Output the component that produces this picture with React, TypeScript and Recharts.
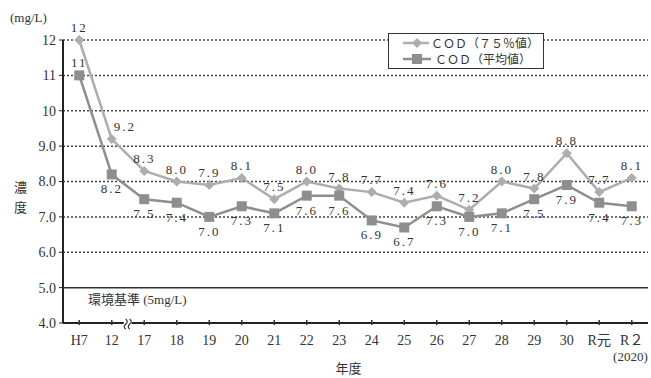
import { LabelList, Legend, Line, LineChart, ReferenceLine, XAxis, YAxis } from "recharts"

const YEARS = ["H7", "12", "17", "18", "19", "20", "21", "22", "23", "24", "25", "26", "27", "28", "29", "30", "R元", "R２"]
const COD_75 = [12, 9.2, 8.3, 8.0, 7.9, 8.1, 7.5, 8.0, 7.8, 7.7, 7.4, 7.6, 7.2, 8.0, 7.8, 8.8, 7.7, 8.1]
const COD_AVG = [11, 8.2, 7.5, 7.4, 7.0, 7.3, 7.1, 7.6, 7.6, 6.9, 6.7, 7.3, 7.0, 7.1, 7.5, 7.9, 7.4, 7.3]
const Y_TICKS = [4, 5, 6, 7, 8, 9, 10, 11, 12]
const GRID_VALUES = [6, 7, 8, 9, 10, 11, 12]

const data = YEARS.map((year, i) => ({ year, p75: COD_75[i], avg: COD_AVG[i] }))

const SERIF = '"Liberation Serif", "DejaVu Serif", "Noto Sans CJK JP", serif'
const LIGHT = "#adadad"
const DARK = "#8e8e8e"
const INK = "#333"

const fmt = (v: number) => (v >= 10 ? String(v) : v.toFixed(1))

function XTick(props: any) {
  const { x, y, payload, index } = props
  const last = index === YEARS.length - 1
  return (
    <g>
      <line x1={x} x2={x} y1={y - 5} y2={y} stroke={INK} strokeWidth={1.5} />
      <text x={x} y={y + 20} textAnchor="middle" fontSize={14} fill={INK} fontFamily={SERIF}>
        {payload.value}
      </text>
      {last && (
        <text x={x + 16} y={y + 36} textAnchor="end" fontSize={13} fill={INK} fontFamily={SERIF}>
          (2020)
        </text>
      )}
      {index === 1 && (
        <g>
          <rect x={x + 12} y={y - 6} width={8} height={10} fill="#fff" />
          <path d={`M${x + 14},${y - 6} q3,3 0,5 q-3,3 0,5`} stroke={INK} fill="none" strokeWidth={1.2} />
          <path d={`M${x + 18},${y - 6} q3,3 0,5 q-3,3 0,5`} stroke={INK} fill="none" strokeWidth={1.2} />
        </g>
      )}
    </g>
  )
}

function Diamond(props: any) {
  const { cx, cy, index } = props
  if (cx == null || cy == null) return <g key={index} />
  return <path key={index} d={`M${cx},${cy - 5} L${cx + 5},${cy} L${cx},${cy + 5} L${cx - 5},${cy} Z`} fill={LIGHT} />
}

function Square(props: any) {
  const { cx, cy, index } = props
  if (cx == null || cy == null) return <g key={index} />
  return <rect key={index} x={cx - 5} y={cy - 5} width={10} height={10} fill={DARK} />
}

function TopLabel(props: any) {
  const { x, y, value, index } = props
  const dx = index === 1 ? 13 : 0
  return (
    <text x={x + dx} y={y - 8} textAnchor="middle" fontSize={13} fill={INK} fontFamily={SERIF} letterSpacing={2}>
      {fmt(value)}
    </text>
  )
}

function BottomLabel(props: any) {
  const { x, y, value, index } = props
  const dy = index === 0 ? -8 : 19
  return (
    <text x={x} y={y + dy} textAnchor="middle" fontSize={13} fill={INK} fontFamily={SERIF} letterSpacing={2}>
      {fmt(value)}
    </text>
  )
}

function LegendBox() {
  const row = (label: string, color: string, square: boolean) => (
    <div style={{ display: "flex", alignItems: "center", height: 16, whiteSpace: "nowrap" }}>
      <svg width={32} height={12}>
        <line x1={2} x2={30} y1={6} y2={6} stroke={color} strokeWidth={2.5} />
        {square ? <rect x={11} y={1} width={10} height={10} fill={color} /> : <path d="M16,1 L21,6 L16,11 L11,6 Z" fill={color} />}
      </svg>
      <span style={{ fontFamily: SERIF, fontSize: 12, color: INK, marginLeft: 2 }}>{label}</span>
    </div>
  )
  return (
    <div style={{ border: "1.5px solid #333", background: "#fff", padding: "1px 4px 1px 12px", width: 138, boxSizing: "content-box" }}>
      {row("ＣＯＤ（７５％値）", LIGHT, false)}
      {row("ＣＯＤ（平均値）", DARK, true)}
    </div>
  )
}

export default function App() {
  return (
    <div style={{ position: "absolute", left: 0, top: 0, width: 651, height: 378, background: "#fff" }}>
      <LineChart width={651} height={378} data={data} margin={{ top: 40, right: 3, left: 0, bottom: 0 }}>
        {GRID_VALUES.map((v) => (
          <ReferenceLine key={v} y={v} stroke="#444" strokeWidth={1.5} strokeDasharray="2 2" />
        ))}
        <ReferenceLine
          y={5}
          stroke="#333"
          strokeWidth={1.5}
          label={{
            content: (p: any) => (
              <text x={p.viewBox.x + 25} y={p.viewBox.y + 16} fontSize={13} fill={INK} fontFamily={SERIF}>
                環境基準 (5mg/L)
              </text>
            ),
          }}
        />
        <XAxis
          dataKey="year"
          scale="band"
          height={55}
          axisLine={{ stroke: "#222", strokeWidth: 2 }}
          tickLine={false}
          tickSize={0}
          tick={<XTick />}
          interval={0}
          label={{
            content: (p: any) => (
              <text x={p.viewBox.x + p.viewBox.width / 2 - 20} y={p.viewBox.y + 50} fontSize={13} fill={INK} fontFamily={SERIF}>
                年度
              </text>
            ),
          }}
        />
        <YAxis
          width={63}
          domain={[4, 12]}
          ticks={Y_TICKS}
          interval={0}
          tickFormatter={fmt}
          tick={{ fontSize: 14, fill: INK, fontFamily: SERIF }}
          axisLine={{ stroke: "#222", strokeWidth: 2 }}
          tickLine={{ stroke: "#222" }}
          tickSize={4}
          tickMargin={3}
          label={{
            content: (p: any) => (
              <g fontFamily={SERIF} fontSize={13} fill={INK}>
                <text x={p.viewBox.x + 10} y={p.viewBox.y - 18}>(mg/L)</text>
                <text x={p.viewBox.x + 14} y={p.viewBox.y + p.viewBox.height / 2 + 10}>濃</text>
                <text x={p.viewBox.x + 14} y={p.viewBox.y + p.viewBox.height / 2 + 30}>度</text>
              </g>
            ),
          }}
        />
        <Legend
          content={() => <LegendBox />}
          layout="horizontal"
          verticalAlign="middle"
          align="center"
          wrapperStyle={{ left: 388, top: 33, width: "auto", height: "auto" }}
        />
        <Line
          type="linear"
          dataKey="p75"
          stroke={LIGHT}
          strokeWidth={2.5}
          dot={<Diamond />}
          isAnimationActive={false}
        >
          <LabelList dataKey="p75" content={<TopLabel />} />
        </Line>
        <Line
          type="linear"
          dataKey="avg"
          stroke={DARK}
          strokeWidth={2.5}
          dot={<Square />}
          isAnimationActive={false}
        >
          <LabelList dataKey="avg" content={<BottomLabel />} />
        </Line>
      </LineChart>
    </div>
  )
}
